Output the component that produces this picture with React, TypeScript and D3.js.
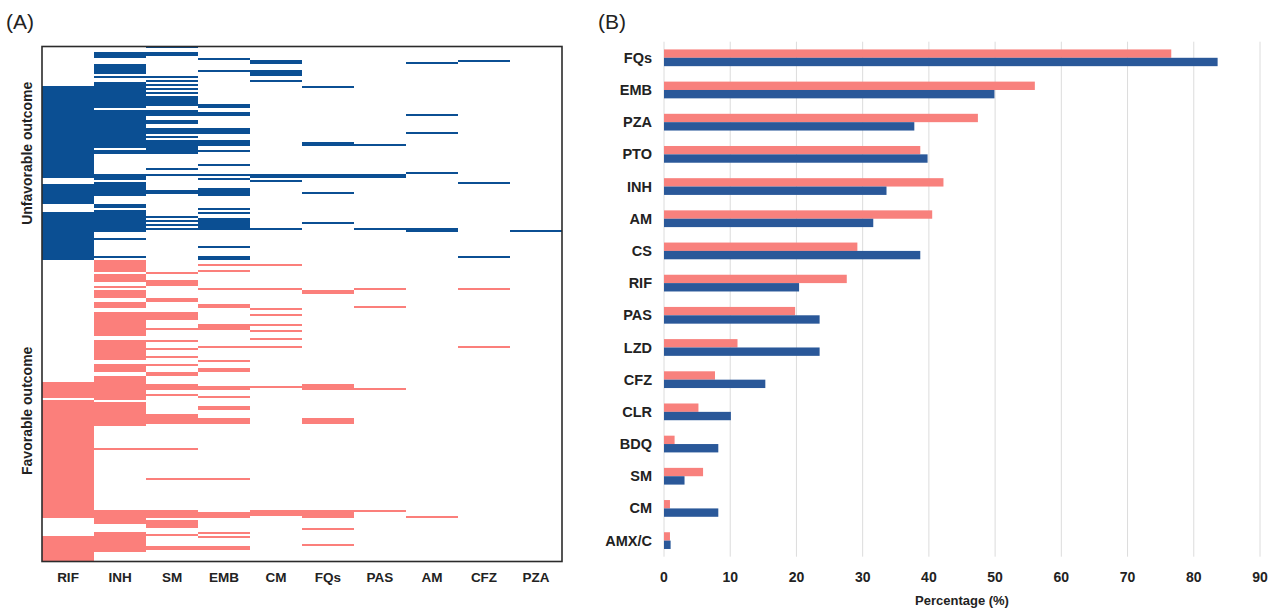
import React from "react";
import * as d3 from "d3";

// ---------- Panel A: heatmap (rows = patients, runs of consecutive rows per drug) ----------
const heatCols = ["RIF", "INH", "SM", "EMB", "CM", "FQs", "PAS", "AM", "CFZ", "PZA"];
const TOTAL_ROWS = 258;
const SPLIT_ROW = 107; // rows before this are unfavorable outcome

const runsRIF = [[20, 66], [69, 79], [83, 107], [168, 176], [177, 236], [245, 258]];
const runsINH = [[3, 6], [9, 14], [15, 16], [18, 31], [32, 51], [52, 54], [64, 67], [68, 75], [79, 81], [82, 93], [96, 97], [105, 106],
  [107, 113], [114, 118], [120, 121], [122, 126], [128, 131], [133, 145], [147, 157], [159, 163], [165, 177], [178, 190], [201, 202], [232, 239], [243, 253]];
const runsSM = [[0, 1], [3, 5], [15, 16], [17, 18], [19, 20], [21, 22], [23, 24], [25, 30], [32, 35], [37, 39], [41, 44], [45, 46], [47, 54], [61, 62], [64, 65], [72, 74], [85, 86], [87, 88], [89, 90], [91, 92],
  [113, 114], [117, 120], [126, 128], [133, 137], [141, 142], [147, 148], [151, 152], [155, 156], [159, 160], [163, 165], [169, 172], [174, 175], [184, 189], [201, 202], [216, 217], [232, 236], [237, 241], [244, 245], [250, 252]];
const runsEMB = [[6, 7], [12, 13], [29, 31], [33, 35], [41, 44], [47, 50], [52, 53], [59, 60], [64, 65], [66, 67], [71, 75], [81, 82], [83, 84], [86, 92], [100, 101], [105, 107],
  [109, 110], [112, 113], [121, 122], [129, 131], [139, 142], [150, 151], [157, 158], [161, 163], [170, 172], [175, 176], [180, 182], [186, 189], [216, 217], [233, 236], [243, 244], [245, 246], [250, 252]];
const runsCM = [[7, 9], [12, 15], [17, 18], [64, 66], [67, 68], [91, 92],
  [109, 110], [121, 122], [131, 132], [134, 135], [139, 140], [142, 143], [146, 147], [150, 151], [170, 171], [232, 235]];
const runsFQs = [[20, 21], [48, 50], [64, 66], [73, 74], [88, 89],
  [122, 124], [169, 172], [186, 189], [232, 236], [241, 242], [249, 250]];
const runsPAS = [[49, 50], [64, 66], [91, 92], [121, 122], [130, 131], [171, 172], [232, 233]];
const runsAM = [[8, 9], [34, 35], [43, 44], [63, 64], [91, 93], [235, 236]];
const runsCFZ = [[7, 8], [68, 69], [105, 106], [121, 122], [150, 151]];
const runsPZA = [[92, 93]];

const heatRuns = [runsRIF, runsINH, runsSM, runsEMB, runsCM, runsFQs, runsPAS, runsAM, runsCFZ, runsPZA];

// ---------- Panel B: bar chart ----------
const barCats = ["FQs", "EMB", "PZA", "PTO", "INH", "AM", "CS", "RIF", "PAS", "LZD", "CFZ", "CLR", "BDQ", "SM", "CM", "AMX/C"];
const favorable = [76.6, 56.0, 47.4, 38.7, 42.2, 40.5, 29.2, 27.6, 19.8, 11.1, 7.7, 5.2, 1.6, 5.9, 0.9, 0.9];
const unfavorable = [83.6, 49.9, 37.8, 39.8, 33.6, 31.6, 38.7, 20.4, 23.5, 23.5, 15.3, 10.1, 8.2, 3.1, 8.2, 1.0];
const xTicks = [0, 10, 20, 30, 40, 50, 60, 70, 80, 90];

const HEAT_BLUE = "#0b4f93";
const HEAT_PINK = "#fb7f7b";
const BAR_BLUE = "#2a5899";
const BAR_PINK = "#f8817d";
const FONT = "'Liberation Sans', Arial, Helvetica, sans-serif";

export default function App() {
  const W = 1274, H = 608;

  // heatmap scales
  const hx = d3.scaleBand().domain(heatCols).range([42, 562]).padding(0);
  const hy = d3.scaleLinear().domain([0, TOTAL_ROWS]).range([46.5, 561.5]);

  // bar scales
  const bx = d3.scaleLinear().domain([0, 90]).range([664, 1260]);
  const by = d3.scaleBand().domain(barCats).range([41.7, 556.7]).paddingInner(0.48).paddingOuter(0.24);
  const sub = d3.scaleBand().domain(["fav", "unfav"]).range([0, by.bandwidth()]).padding(0);

  return (
    <svg width={W} height={H} style={{ position: "absolute", left: 0, top: 0, background: "#fff" }} fontFamily={FONT}>
      <rect x={0} y={0} width={W} height={H} fill="#fff" />
      {/* Panel titles */}
      <text x={6} y={29} fontSize={21} fill="#222">(A)</text>
      <text x={598} y={29} fontSize={21} fill="#222">(B)</text>

      {/* Heatmap */}
      <g shapeRendering="crispEdges">
        {heatCols.map((c, ci) =>
          heatRuns[ci].map((r, ri) => (
            <rect key={c + ri} x={hx(c)} width={hx.bandwidth()} y={hy(r[0])} height={hy(r[1]) - hy(r[0])}
              fill={r[0] < SPLIT_ROW ? HEAT_BLUE : HEAT_PINK} />
          ))
        )}
      </g>
      <rect x={hx.range()[0]} y={hy(0)} width={hx.range()[1] - hx.range()[0]} height={hy(TOTAL_ROWS) - hy(0)}
        fill="none" stroke="#2b2b2b" strokeWidth={1.6} />
      {heatCols.map((c) => (
        <text key={c} x={hx(c) + hx.bandwidth() / 2} y={582} textAnchor="middle" fontSize={13.5} fontWeight="bold" fill="#222">{c}</text>
      ))}
      <text transform={`translate(32,${(hy(0) + hy(SPLIT_ROW)) / 2}) rotate(-90)`} textAnchor="middle" fontSize={14} fontWeight="bold" fill="#222">Unfavorable outcome</text>
      <text transform={`translate(32,${(hy(SPLIT_ROW) + hy(TOTAL_ROWS)) / 2}) rotate(-90)`} textAnchor="middle" fontSize={14} fontWeight="bold" fill="#222">Favorable outcome</text>

      {/* Bar chart grid */}
      {xTicks.map((t) => (
        <line key={t} x1={bx(t)} x2={bx(t)} y1={41.7} y2={556.7} stroke="#dcdcdc" strokeWidth={1} />
      ))}
      {/* Bars */}
      {barCats.map((c, i) => (
        <g key={c}>
          <rect x={bx(0)} y={by(c)! + sub("fav")!} width={bx(favorable[i]) - bx(0)} height={sub.bandwidth()} fill={BAR_PINK} />
          <rect x={bx(0)} y={by(c)! + sub("unfav")!} width={bx(unfavorable[i]) - bx(0)} height={sub.bandwidth()} fill={BAR_BLUE} />
          <text x={652} y={by(c)! + by.bandwidth() / 2} dy="0.35em" textAnchor="end" fontSize={14.5} fontWeight="bold" fill="#222">{c}</text>
        </g>
      ))}
      {xTicks.map((t) => (
        <text key={"t" + t} x={bx(t)} y={582} textAnchor="middle" fontSize={14} fontWeight="bold" fill="#222">{t}</text>
      ))}
      <text x={(bx(0) + bx(90)) / 2} y={605} textAnchor="middle" fontSize={13} fontWeight="bold" fill="#222">Percentage (%)</text>
    </svg>
  );
}
